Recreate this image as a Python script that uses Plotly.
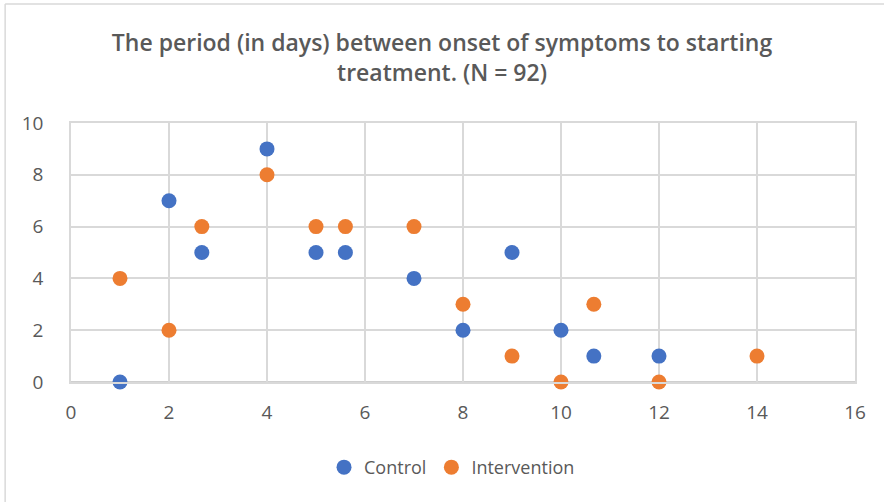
import plotly.graph_objects as go

# Control group
control_days = [1, 2, 2.67, 4, 5, 5.6, 7, 8, 9, 10, 10.67, 12]
control_counts = [0, 7, 5, 9, 5, 5, 4, 2, 5, 2, 1, 1]

# Intervention group
intervention_days = [1, 2, 2.67, 4, 5, 5.6, 7, 8, 9, 10, 10.67, 12, 14]
intervention_counts = [4, 2, 6, 8, 6, 6, 6, 3, 1, 0, 3, 0, 1]

x_ticks = [0, 2, 4, 6, 8, 10, 12, 14, 16]
y_ticks = [0, 2, 4, 6, 8, 10]

fig = go.Figure()

fig.add_trace(go.Scatter(
    x=control_days, y=control_counts, mode="markers", name="Control",
    marker=dict(color="#4472C4", size=15, line=dict(width=0)),
    cliponaxis=False,
))
fig.add_trace(go.Scatter(
    x=intervention_days, y=intervention_counts, mode="markers", name="Intervention",
    marker=dict(color="#ED7D31", size=15, line=dict(width=0)),
    cliponaxis=False,
))

# light frame around the chart area (only left and top edges are visible)
fig.add_shape(type="line", xref="paper", yref="paper",
              x0=-0.084, x1=-0.084, y0=1.459, y1=-0.6,
              line=dict(color="#D9D9D9", width=1.5))
fig.add_shape(type="line", xref="paper", yref="paper",
              x0=-0.084, x1=1.1, y0=1.459, y1=1.459,
              line=dict(color="#D9D9D9", width=1.5))

fig.update_layout(
    width=884, height=502,
    margin=dict(l=71, r=29, t=123, b=120),
    paper_bgcolor="white", plot_bgcolor="white",
    font=dict(family="Open Sans, sans-serif", color="#595959", size=19),
    title=dict(
        text="The period (in days) between onset of symptoms to starting<br>treatment. (N = 92)",
        x=0.5, xanchor="center", y=0.898, yanchor="top",
        font=dict(family="Open Sans, sans-serif", size=23, color="#595959", weight=600),
    ),
    legend=dict(
        orientation="h", x=0.486, xanchor="center", y=-0.33, yanchor="middle",
        font=dict(size=18, color="#595959"),
    ),
)

fig.update_xaxes(
    range=[0, 16], tickvals=x_ticks, showgrid=True, gridcolor="#D9D9D9", gridwidth=1.5,
    zeroline=False, showline=True, linecolor="#D9D9D9", linewidth=1.5, mirror=True,
    ticks="", ticklabelstandoff=12,
)
fig.update_yaxes(
    range=[0, 10], tickvals=y_ticks, showgrid=True, gridcolor="#D9D9D9", gridwidth=1.5,
    zeroline=False, showline=True, linecolor="#D9D9D9", linewidth=1.5, mirror=True,
    ticks="", ticklabelstandoff=22,
)

# bottom axis line is a little darker than the grid
fig.add_shape(type="line", xref="paper", yref="y", x0=0, x1=1, y0=0, y1=0,
              line=dict(color="#BFBFBF", width=1.5), layer="below")

fig.write_html("out.html", config={"displayModeBar": False},
               post_script="document.body.style.margin='0';")
